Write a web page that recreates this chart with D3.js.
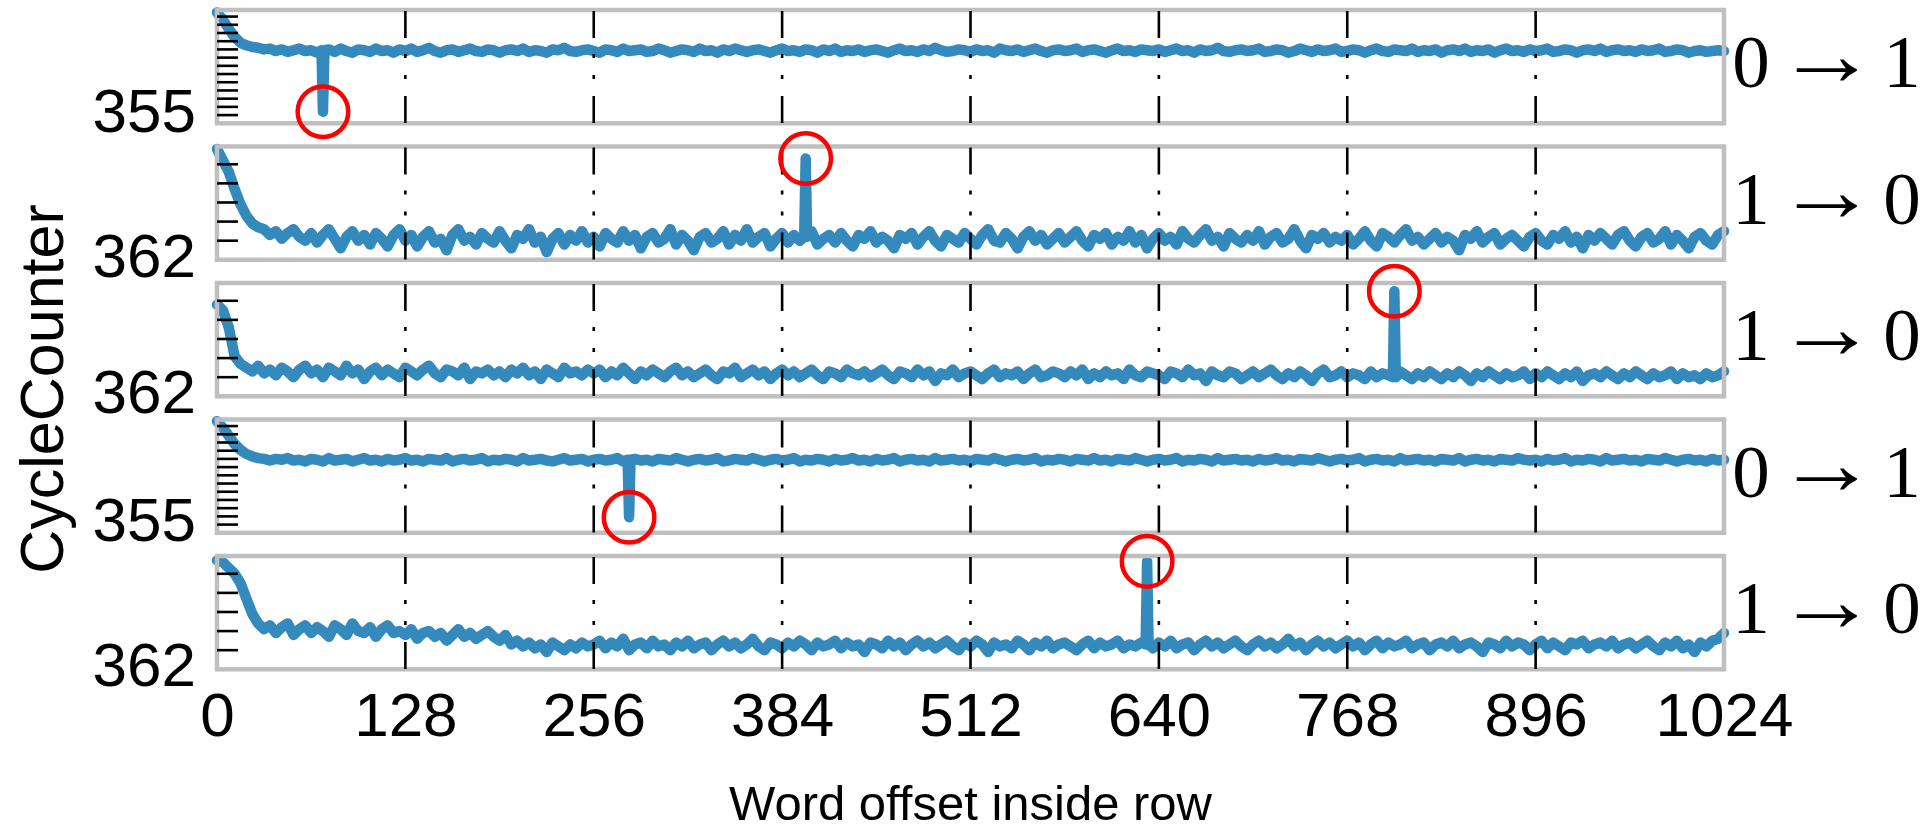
<!DOCTYPE html>
<html>
<head>
<meta charset="utf-8">
<script src="https://cdn.jsdelivr.net/npm/d3@7"></script>
<style>
  body { margin: 0; background: #fff; }
</style>
</head>
<body>
<div id="chart"></div>
<script>
// one value every 4 words, offsets 0..1024
const offsetStep = 4;
const xTicks = [0, 128, 256, 384, 512, 640, 768, 896, 1024];
const gridOffsets = [128, 256, 384, 512, 640, 768, 896];

const rowLabels = ["355", "362", "362", "355", "362"];
const flipFrom = ["0", "1", "1", "0", "1"];
const flipTo = ["1", "0", "0", "1", "0"];
const yDomains = [[354, 367.8], [362, 367.93], [362, 367.93], [354, 367.8], [362, 367.93]];
const ticks355 = [355, 356, 357, 358, 359, 360, 361, 362, 363, 364, 365, 366, 367];
const ticks362 = [362, 363, 364, 365, 366, 367];

// the single outlier of each row (circled)
const spikeOffsets = [72, 400, 800, 280, 632];
const spikeValues = [355.4, 367.3, 367.5, 355.9, 367.65];

const series1 = [
  367.5, 366.6, 365.5, 364.5, 363.8, 363.5, 363.3, 363.2, 363.0, 363.1, 362.8, 363.0, 362.7, 362.9, 363.1, 362.8,
  362.9, 362.6, 362.9, 363.0, 362.7, 363.1, 362.8, 362.6, 363.0, 362.9, 362.7, 363.1, 362.8, 362.9, 362.6, 363.0,
  362.8, 363.1, 362.7, 362.9, 363.2, 362.8, 362.6, 362.9, 363.0, 362.7, 362.9, 363.1, 362.8, 362.7, 363.0, 362.9,
  362.6, 362.9, 363.0, 362.8, 363.1, 362.7, 362.9, 362.8, 362.6, 363.0, 362.9, 363.2, 362.8, 362.7, 362.9, 363.0,
  362.8, 362.6, 363.0, 362.9, 362.7, 363.1, 362.8, 362.9, 363.0, 362.7, 362.8, 363.1, 362.9, 362.6, 362.8, 363.0,
  362.9, 362.7, 363.1, 362.8, 362.9, 362.6, 363.0, 362.8, 363.1, 362.9, 362.7, 362.9, 363.0, 362.8, 362.6, 362.9,
  363.1, 362.8, 362.9, 362.7, 363.0, 362.9, 362.6, 363.0, 362.8, 363.1, 362.7, 362.9, 362.8, 363.0, 362.7, 362.9,
  363.0, 362.8, 362.6, 362.9, 363.1, 362.8, 362.9, 362.7, 363.0, 362.8, 363.2, 362.9, 362.7, 362.8, 363.0, 362.9,
  362.7, 363.0, 362.8, 362.9, 362.6, 363.1, 362.9, 362.8, 363.0, 362.7, 362.9, 363.1, 362.8, 362.6, 362.9, 363.0,
  362.8, 362.9, 363.1, 362.7, 362.9, 363.0, 362.8, 362.6, 362.9, 363.1, 362.8, 362.9, 362.7, 363.0, 362.9, 362.8,
  363.0, 362.7, 362.9, 363.1, 362.8, 362.9, 362.6, 363.0, 362.8, 362.9, 363.2, 362.8, 362.7, 362.9, 363.0, 362.8,
  362.9, 363.1, 362.7, 362.8, 363.0, 362.9, 362.6, 362.8, 363.1, 362.9, 362.7, 363.0, 362.8, 362.9, 363.1, 362.7,
  362.8, 363.0, 362.9, 362.6, 362.9, 363.1, 362.8, 362.7, 363.0, 362.9, 362.8, 363.1, 362.7, 362.9, 362.8, 363.0,
  362.6, 362.9, 363.0, 362.8, 363.1, 362.7, 362.9, 362.8, 363.0, 362.6, 362.9, 363.1, 362.8, 362.9, 362.7, 363.0,
  362.8, 362.9, 363.1, 362.7, 362.8, 363.0, 362.9, 362.6, 362.9, 363.0, 362.8, 363.1, 362.7, 362.9, 363.0, 362.8,
  362.9, 362.7, 363.0, 362.8, 362.9, 363.1, 362.7, 362.8, 363.0, 362.9, 362.6, 362.8, 362.9, 362.7, 362.8, 362.9,
  362.8
];
const series2 = [
  367.8, 367.2, 366.6, 365.7, 364.9, 364.3, 363.9, 363.7, 363.6, 363.3, 363.5, 363.1, 363.4, 363.6, 363.2, 363.0,
  363.4, 362.9, 363.3, 363.6, 363.1, 362.6, 363.2, 363.5, 363.0, 363.3, 362.8, 363.4, 363.1, 362.7, 363.3, 363.6,
  363.0, 363.3, 362.7, 363.2, 363.5, 362.9, 363.1, 362.5, 363.3, 363.6, 363.0, 363.2, 362.8, 363.4, 363.1, 362.9,
  363.5, 363.0, 362.6, 363.3, 363.1, 363.6, 362.9, 363.2, 362.4, 363.1, 363.4, 362.8, 363.3, 363.0, 363.5, 362.9,
  363.2, 362.7, 363.4, 363.1, 362.9, 363.5, 363.0, 363.3, 362.6, 363.2, 363.4, 362.9, 363.1, 363.6, 362.8, 363.3,
  363.0, 362.5, 363.2, 363.4, 362.9, 363.1, 363.5, 362.8, 363.3, 363.0, 363.6, 362.9, 363.2, 363.4, 362.7, 363.1,
  363.4, 362.9, 363.3, 363.0, 363.2, 363.5, 362.8, 363.1, 363.3, 362.9, 363.4, 363.0, 362.7, 363.3, 363.1, 363.5,
  362.9, 363.2, 363.0, 362.6, 363.3, 363.1, 363.4, 362.8, 363.2, 363.5, 363.0, 362.7, 363.3, 363.1, 362.9, 363.4,
  363.1, 362.8, 363.3, 363.6, 363.0, 362.9, 363.4, 363.1, 362.6, 363.2, 363.5, 363.0, 363.3, 362.8, 363.1, 363.4,
  362.9, 363.2, 363.5, 363.0, 362.7, 363.3, 363.1, 363.4, 362.8, 363.2, 363.0, 363.5, 362.9, 363.3, 362.6, 363.1,
  363.4, 363.0, 363.2, 362.8, 363.5, 363.1, 362.9, 363.3, 363.6, 363.0, 363.2, 362.7, 363.4, 363.1, 362.9, 363.3,
  363.0, 363.5, 362.8, 363.2, 363.4, 362.9, 363.1, 363.6, 363.0, 362.6, 363.3, 363.1, 363.4, 362.9, 363.2, 363.0,
  363.3, 362.8, 363.1, 363.5, 363.0, 362.7, 363.4, 363.2, 362.9, 363.3, 363.6, 363.0, 363.2, 362.8, 363.1, 363.4,
  362.9, 363.2, 363.0, 362.5, 363.3, 363.1, 363.5, 362.9, 363.2, 363.4, 362.8, 363.1, 363.3, 363.0, 362.7, 363.2,
  363.4, 363.0, 362.8, 363.3, 363.1, 363.5, 362.9, 363.2, 362.6, 363.3, 363.0, 363.4, 363.1, 362.8, 363.3, 363.5,
  363.0, 362.7, 363.2, 363.4, 362.9, 363.1, 363.5, 362.8, 363.3, 363.0, 362.6, 363.2, 363.4, 363.0, 362.8, 363.3,
  363.5
];
const series3 = [
  366.8, 366.5, 365.6, 364.1, 363.7, 363.5, 363.3, 363.6, 363.2, 363.4, 363.1, 363.5, 363.3, 363.0, 363.4, 363.6,
  363.2, 363.4, 363.0, 363.5, 363.3, 363.1, 363.6, 363.2, 363.4, 362.9, 363.3, 363.5, 363.1, 363.4, 363.2, 363.0,
  363.5, 363.3, 363.1, 363.4, 363.6, 363.2, 363.0, 363.4, 363.3, 363.1, 363.5, 362.9, 363.3, 363.2, 363.4, 363.1,
  363.3, 363.0, 363.4, 363.2, 363.5, 363.1, 363.3, 362.9, 363.4, 363.2, 363.0, 363.5, 363.2, 363.3, 363.1, 363.4,
  363.2, 363.4, 363.0, 363.3, 363.1, 363.5, 363.2, 362.9, 363.3, 363.1, 363.4, 363.2, 363.0, 363.3, 363.5, 363.1,
  363.3, 363.0, 363.2, 363.4, 363.1, 362.9, 363.3, 363.2, 363.5, 363.0, 363.2, 363.4, 363.1, 363.3, 362.9, 363.2,
  363.4, 363.1, 363.3, 363.0, 363.2, 363.4, 363.1, 362.9, 363.3, 363.2, 363.0, 363.4, 363.2, 363.1, 363.3, 363.0,
  363.2, 363.4, 363.1, 362.9, 363.3, 363.2, 363.0, 363.4, 363.1, 363.3, 362.8, 363.2, 363.1, 363.4, 363.0, 363.2,
  363.3, 363.1, 362.9, 363.2, 363.4, 363.0, 363.2, 363.1, 363.3, 362.9, 363.2, 363.4, 363.0, 363.1, 363.3, 363.2,
  363.0, 363.3, 363.1, 363.4, 362.9, 363.2, 363.0, 363.3, 363.1, 363.2, 362.9, 363.4, 363.1, 363.0, 363.3, 363.2,
  363.1, 362.9, 363.3, 363.2, 363.0, 363.4, 363.1, 363.2, 362.8, 363.3, 363.1, 363.0, 363.3, 363.2, 362.9, 363.1,
  363.3, 363.0, 363.2, 363.4, 363.1, 362.9, 363.2, 363.0, 363.3, 363.1, 362.8, 363.2, 363.4, 363.0, 363.1, 363.3,
  363.0, 363.2, 363.1, 362.9, 363.3, 363.0, 363.2, 363.1, 363.0, 363.3, 363.1, 362.9, 363.2, 363.0, 363.3, 363.1,
  362.9, 363.2, 363.0, 363.3, 363.1, 362.8, 363.2, 363.0, 363.3, 363.1, 362.9, 363.2, 363.0, 363.1, 363.3, 362.9,
  363.2, 363.0, 363.3, 363.1, 362.9, 363.2, 363.0, 363.3, 362.8, 363.1, 363.2, 363.0, 363.3, 363.1, 362.9, 363.2,
  363.0, 363.3, 363.1, 362.9, 363.2, 363.0, 363.1, 363.3, 362.9, 363.2, 363.0, 363.1, 362.9, 363.2, 363.0, 363.1,
  363.3
];
const series4 = [
  367.6, 366.8, 365.8, 364.8, 364.1, 363.6, 363.3, 363.1, 363.0, 362.8, 363.0, 362.9, 363.1, 362.8, 362.9, 362.7,
  363.0, 362.9, 362.7, 363.1, 362.8, 362.9, 363.0, 362.7, 362.9, 363.1, 362.8, 362.9, 362.7, 363.0, 362.8, 362.9,
  363.1, 362.8, 362.9, 362.7, 363.0, 362.9, 362.8, 363.1, 362.7, 362.9, 363.0, 362.8, 362.9, 363.1, 362.7, 362.9,
  362.8, 363.0, 362.9, 362.7, 363.1, 362.8, 362.9, 363.0, 362.8, 362.7, 362.9, 363.1, 362.8, 362.9, 363.0, 362.7,
  362.9, 363.0, 362.8, 362.9, 363.1, 362.7, 362.9, 363.0, 362.8, 362.9, 362.7, 363.0, 362.9, 362.8, 363.1, 362.9,
  362.7, 362.9, 363.0, 362.8, 362.9, 363.1, 362.7, 362.8, 363.0, 362.9, 362.8, 363.1, 362.9, 362.7, 362.9, 363.0,
  362.8, 362.9, 363.1, 362.7, 362.9, 362.8, 363.0, 362.9, 362.7, 363.0, 362.8, 362.9, 363.1, 362.8, 362.9, 362.7,
  363.0, 362.8, 362.9, 363.1, 362.7, 362.9, 363.0, 362.8, 362.9, 362.7, 363.1, 362.8, 362.9, 363.0, 362.8, 362.9,
  362.7, 363.0, 362.9, 362.8, 363.1, 362.9, 362.7, 362.9, 363.0, 362.8, 362.9, 363.1, 362.7, 362.9, 362.8, 363.0,
  362.9, 362.7, 363.0, 362.9, 362.8, 363.1, 362.8, 362.9, 362.7, 363.0, 362.9, 362.8, 363.1, 362.9, 362.7, 362.9,
  363.0, 362.8, 362.9, 363.1, 362.7, 362.9, 362.8, 363.0, 362.9, 362.7, 363.1, 362.8, 362.9, 363.0, 362.8, 362.9,
  362.7, 363.0, 362.8, 362.9, 363.1, 362.8, 362.9, 362.7, 363.0, 362.9, 362.8, 363.1, 362.9, 362.7, 362.9, 363.0,
  362.8, 362.9, 363.1, 362.7, 362.9, 363.0, 362.8, 362.9, 362.7, 363.1, 362.8, 362.9, 363.0, 362.8, 362.9, 362.7,
  363.0, 362.9, 362.8, 363.1, 362.7, 362.9, 363.0, 362.8, 362.9, 362.7, 363.0, 362.9, 362.8, 363.1, 362.9, 362.8,
  362.9, 362.7, 363.0, 362.8, 362.9, 363.1, 362.7, 362.9, 362.8, 363.0, 362.9, 362.7, 363.1, 362.8, 362.9, 363.0,
  362.8, 362.9, 362.7, 363.0, 362.9, 362.8, 363.1, 362.9, 362.7, 362.9, 363.0, 362.8, 362.9, 362.7, 363.0, 362.8,
  362.9
];
const series5 = [
  367.7, 367.6, 367.3, 367.0, 366.5, 365.7, 364.9, 364.4, 364.1, 364.3, 363.9, 364.2, 364.4, 363.8, 364.1, 364.3,
  363.9, 364.2, 364.0, 363.7, 364.3, 364.1, 363.8, 364.4, 364.0, 363.9, 364.2, 363.7, 364.1, 364.3, 363.9, 364.0,
  363.8, 364.1, 363.6, 363.9, 364.0, 363.7, 363.9, 363.5, 363.8, 364.1, 363.7, 363.9, 363.6, 363.8, 364.0, 363.7,
  363.5, 363.8, 363.3, 363.5, 363.2, 363.4, 363.1, 363.3, 362.9, 363.4, 363.2, 363.0, 363.3, 363.1, 363.4, 363.2,
  363.3, 363.5, 363.1, 363.4, 363.2, 363.6, 363.0, 363.3, 363.4, 363.1, 363.5, 363.2, 363.3, 363.0, 363.4, 363.2,
  363.5, 363.1, 363.3, 363.4, 363.0, 363.3, 363.5, 363.2, 363.4, 363.1, 363.3, 363.6, 363.2, 363.0, 363.4, 363.3,
  363.1, 363.4, 363.2, 363.5, 363.3, 363.0, 363.4, 363.2, 363.3, 363.5, 363.1, 363.4, 363.2, 363.3, 362.9, 363.4,
  363.3, 363.1, 363.5, 363.2, 363.4, 363.0, 363.3, 363.5, 363.2, 363.4, 363.1, 363.3, 363.5, 363.2, 363.0, 363.4,
  363.2, 363.5, 363.3, 362.9, 363.4, 363.2, 363.3, 363.1, 363.5, 363.3, 363.0, 363.4, 363.2, 363.5, 363.1, 363.3,
  363.4, 363.2, 363.0, 363.3, 363.5, 363.1, 363.4, 363.2, 363.3, 363.5, 363.1, 363.3, 363.2, 363.4, 363.3, 363.1,
  363.4, 363.2, 363.5, 363.1, 363.3, 363.4, 363.0, 363.3, 363.5, 363.2, 363.4, 363.1, 363.3, 363.5, 363.2, 363.0,
  363.3, 363.5, 363.2, 363.4, 363.1, 363.3, 363.6, 363.2, 363.4, 363.0, 363.3, 363.5, 363.2, 363.4, 363.1, 363.3,
  363.5, 363.2, 363.4, 363.0, 363.3, 363.5, 363.1, 363.4, 363.2, 363.3, 363.5, 363.1, 363.3, 363.4, 363.0, 363.3,
  363.4, 363.2, 363.5, 363.1, 363.3, 363.4, 363.2, 362.9, 363.4, 363.3, 363.1, 363.5, 363.2, 363.4, 363.3, 363.0,
  363.3, 363.5, 363.1, 363.4, 363.2, 363.0, 363.4, 363.3, 363.5, 363.1, 363.3, 363.4, 363.2, 363.5, 363.1, 363.3,
  363.4, 363.1, 363.3, 363.5, 363.2, 363.0, 363.4, 363.2, 363.5, 363.1, 363.3, 362.9, 363.4, 363.2, 363.5, 363.6,
  363.9
];
const allSeries = [series1, series2, series3, series4, series5];

const width = 1922, height = 831;
const panelTop = 10, panelStep = 136.5, panelHeight = 113.3;
const lineColor = "#348abd";
const sans = "'Liberation Sans', Arial, sans-serif";
const serif = "'Liberation Serif', 'DejaVu Serif', serif";

const x = d3.scaleLinear().domain([0, 1024]).range([217, 1724]);

const svg = d3.select("#chart").append("svg")
    .attr("width", width)
    .attr("height", height)
    .style("font-family", sans);

const line = d3.line().x(d => x(d[0])).y(d => d[1]);
const circles = [];

allSeries.forEach((values, i) => {
  const top = panelTop + i * panelStep;
  const bottom = top + panelHeight;
  const y = d3.scaleLinear().domain(yDomains[i]).range([bottom, top]);
  const ticks = rowLabels[i] === "355" ? ticks355 : ticks362;

  // the outlier sits alone between two neighbours
  const pts = [];
  values.forEach((v, k) => {
    const off = k * offsetStep;
    if (off === spikeOffsets[i]) {
      pts.push([off - 1, y(v)], [off, y(spikeValues[i])], [off + 1, y(v)]);
    } else {
      pts.push([off, y(v)]);
    }
  });

  const g = svg.append("g");

  g.append("path")
      .attr("d", line(pts))
      .attr("fill", "none")
      .attr("stroke", lineColor)
      .attr("stroke-width", 10.5)
      .attr("stroke-linejoin", "round")
      .attr("stroke-linecap", "round");

  g.append("rect")
      .attr("x", x(0))
      .attr("y", top)
      .attr("width", x(1024) - x(0))
      .attr("height", panelHeight)
      .attr("fill", "none")
      .attr("stroke", "#bfbfbf")
      .attr("stroke-width", 4.5);

  g.selectAll("line.grid")
    .data(gridOffsets)
    .join("line")
      .attr("class", "grid")
      .attr("x1", d => x(d)).attr("x2", d => x(d))
      .attr("y1", top + 1).attr("y2", bottom)
      .attr("stroke", "#000")
      .attr("stroke-width", 2.6)
      .attr("stroke-dasharray", "27,16,4,17,4,17");

  g.selectAll("line.tick")
    .data(ticks.filter(t => y(t) < bottom - 3))
    .join("line")
      .attr("class", "tick")
      .attr("x1", x(0)).attr("x2", x(0) + 21)
      .attr("y1", d => y(d)).attr("y2", d => y(d))
      .attr("stroke", "#000")
      .attr("stroke-width", 2.6);

  g.append("text")
      .attr("x", 196)
      .attr("y", y(+rowLabels[i]) + 16.7)
      .attr("text-anchor", "end")
      .attr("font-size", 62)
      .text(rowLabels[i]);

  // bit flip label on the right, drawn as 3 pieces
  const base = (top + bottom) / 2 + 20.5;
  g.append("text")
      .attr("x", 1751).attr("y", base)
      .attr("text-anchor", "middle")
      .attr("font-family", serif)
      .attr("font-size", 75)
      .text(flipFrom[i]);
  g.append("text")
      .attr("transform", `translate(1826.5,${base - 2.5}) scale(1.13,1)`)
      .attr("text-anchor", "middle")
      .attr("font-family", serif)
      .attr("font-size", 90)
      .text("\u2192");
  g.append("text")
      .attr("x", 1902).attr("y", base)
      .attr("text-anchor", "middle")
      .attr("font-family", serif)
      .attr("font-size", 75)
      .text(flipTo[i]);

  circles.push([x(spikeOffsets[i]), y(spikeValues[i])]);
});

// red rings on top of everything
svg.append("g")
  .selectAll("circle")
  .data(circles)
  .join("circle")
    .attr("cx", d => d[0])
    .attr("cy", d => d[1])
    .attr("r", 25.3)
    .attr("fill", "none")
    .attr("stroke", "#ff0000")
    .attr("stroke-width", 4.5);

const xAxis = d3.axisBottom(x)
    .tickValues(xTicks)
    .tickFormat(d3.format("d"))
    .tickSize(0)
    .tickPadding(0);

svg.append("g")
    .attr("transform", "translate(0,692)")
    .call(xAxis)
    .call(g => g.select(".domain").remove())
    .call(g => g.selectAll("text")
        .attr("font-family", sans)
        .attr("font-size", 62)
        .attr("fill", "#000"));

svg.append("text")
    .attr("x", x(512))
    .attr("y", 820)
    .attr("text-anchor", "middle")
    .attr("font-size", 49)
    .text("Word offset inside row");

svg.append("text")
    .attr("transform", "translate(63,389) rotate(-90)")
    .attr("text-anchor", "middle")
    .attr("font-size", 61)
    .text("CycleCounter");
</script>
</body>
</html>
